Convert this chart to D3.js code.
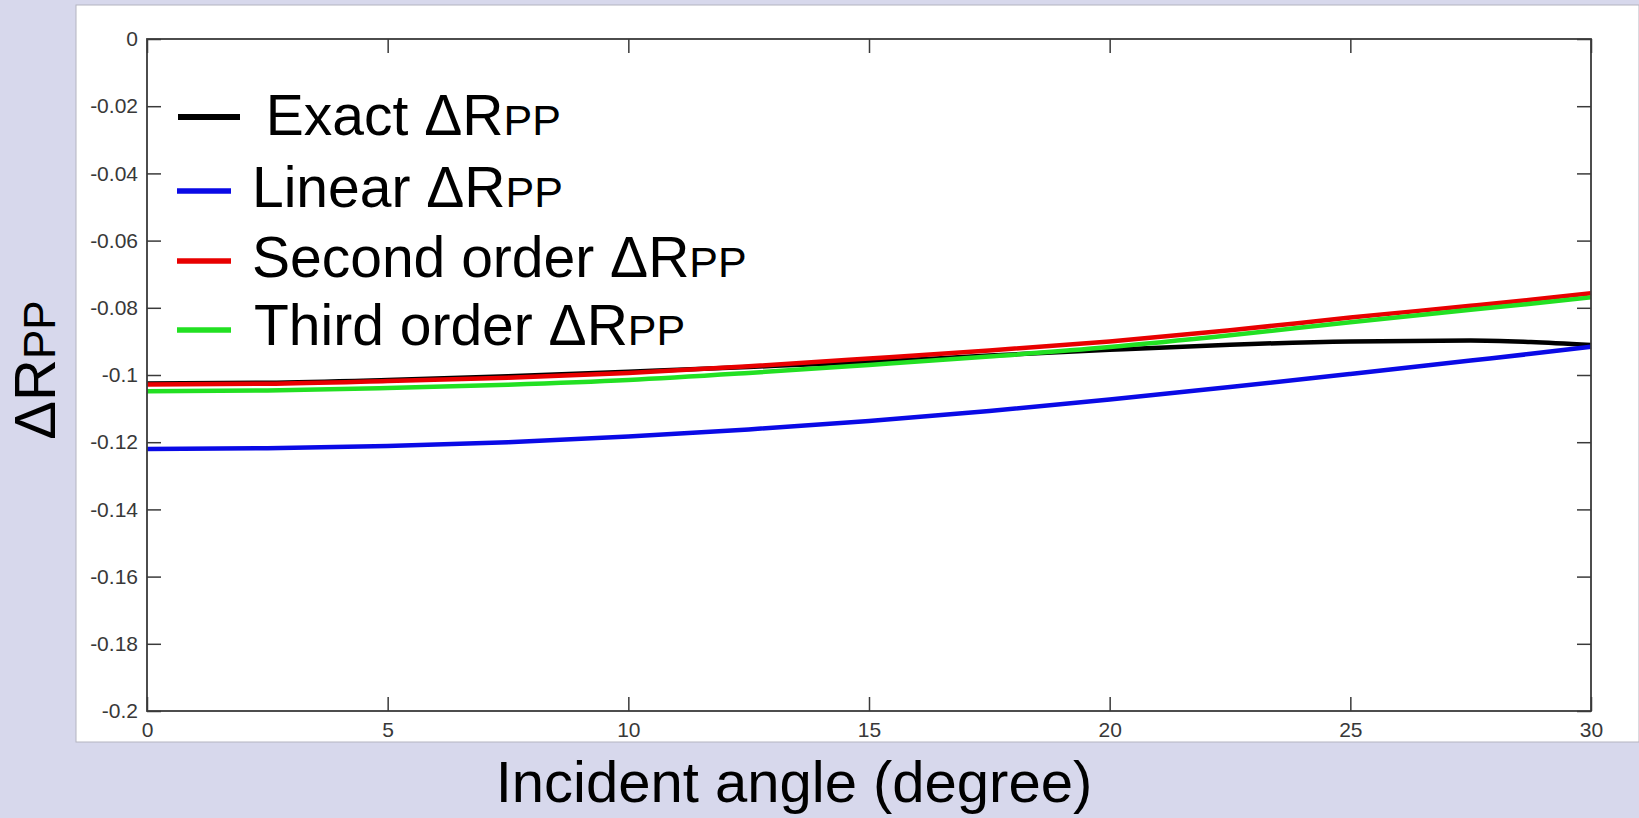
<!DOCTYPE html>
<html>
<head>
<meta charset="utf-8">
<script src="https://cdn.jsdelivr.net/npm/d3@7"></script>
<style>
  html, body { margin: 0; padding: 0; background: #d7d8ec; }
  svg { display: block; font-family: "Liberation Sans", Arial, sans-serif; }
</style>
</head>
<body>
<svg id="chart" width="1639" height="818"></svg>
<script>
// ---- data ----
const angles = [0, 2.5, 5, 7.5, 10, 12.5, 15, 17.5, 20, 22.5, 25, 27.5, 28.75, 30];
const exactR  = [-0.1025, -0.1023, -0.1015, -0.1004, -0.0990, -0.0976, -0.0961, -0.0942, -0.0925, -0.0910, -0.0900, -0.0897, -0.0902, -0.0911];
const linearR = [-0.1220, -0.1218, -0.1211, -0.1200, -0.1183, -0.1162, -0.1137, -0.1107, -0.1073, -0.1036, -0.0997, -0.0957, -0.0937, -0.0916];
const secondR = [-0.1028, -0.1026, -0.1018, -0.1008, -0.0994, -0.0974, -0.0951, -0.0927, -0.0900, -0.0867, -0.0829, -0.0794, -0.0776, -0.0757];
const thirdR  = [-0.1048, -0.1046, -0.1039, -0.1029, -0.1015, -0.0994, -0.0970, -0.0945, -0.0917, -0.0882, -0.0843, -0.0806, -0.0788, -0.0769];
const seriesNames = ["Exact", "Linear", "Second order", "Third order"];
const seriesColors = ["#000000", "#0a0ae6", "#e80000", "#22e022"];
const xTicks = [0, 5, 10, 15, 20, 25, 30];
const yTicks = [0, -0.02, -0.04, -0.06, -0.08, -0.1, -0.12, -0.14, -0.16, -0.18, -0.2];
const yTickLabels = ["0", "-0.02", "-0.04", "-0.06", "-0.08", "-0.1", "-0.12", "-0.14", "-0.16", "-0.18", "-0.2"];

(function () {
const svg = d3.select("#chart");
const W = 1639, H = 818;

// background panels
svg.append("rect").attr("x", 0).attr("y", 0).attr("width", W).attr("height", H).attr("fill", "#d7d8ec");
svg.append("rect").attr("x", 76).attr("y", 5).attr("width", W - 76).attr("height", 737)
  .attr("fill", "#ffffff").attr("stroke", "#b4b4c0").attr("stroke-width", 1);

const pLeft = 147, pRight = 1591, pTop = 39, pBottom = 711;
const x = d3.scaleLinear().domain([0, 30]).range([pLeft, pRight]);
const y = d3.scaleLinear().domain([-0.2, 0]).range([pBottom, pTop]);

// lines
const series = [exactR, linearR, secondR, thirdR];
const line = d3.line().x((d, i) => x(angles[i])).y(d => y(d)).curve(d3.curveMonotoneX);
const plot = svg.append("g");
series.forEach((s, k) => {
  plot.append("path").datum(s).attr("d", line)
    .attr("fill", "none").attr("stroke", seriesColors[k]).attr("stroke-width", 4.5)
    .attr("stroke-linejoin", "round");
});

// axes
const axColor = "#3a3a3a";
function styleAxis(g) {
  g.select(".domain").remove();
  g.selectAll(".tick line").attr("stroke", axColor).attr("stroke-width", 1.5);
  g.selectAll(".tick text").attr("fill", "#383838").style("font-size", "21px")
    .style("font-family", "'Liberation Sans', Arial, sans-serif");
}
svg.append("g").attr("transform", `translate(${pLeft},0)`)
  .call(d3.axisLeft(y).tickValues(yTicks).tickSize(-14).tickPadding(9)
    .tickFormat((d, i) => yTickLabels[i]))
  .call(styleAxis);
svg.append("g").attr("transform", `translate(${pRight},0)`)
  .call(d3.axisRight(y).tickValues(yTicks).tickSize(-14).tickFormat(""))
  .call(styleAxis);
svg.append("g").attr("transform", `translate(0,${pBottom})`)
  .call(d3.axisBottom(x).tickValues(xTicks).tickSize(-14).tickPadding(11).tickFormat(d => String(d)))
  .call(styleAxis);
svg.append("g").attr("transform", `translate(0,${pTop})`)
  .call(d3.axisTop(x).tickValues(xTicks).tickSize(-14).tickFormat(""))
  .call(styleAxis);

// frame
svg.append("rect").attr("x", pLeft).attr("y", pTop).attr("width", pRight - pLeft).attr("height", pBottom - pTop)
  .attr("fill", "none").attr("stroke", axColor).attr("stroke-width", 1.8);

// legend
const legRows = [
  { lx1: 178, lx2: 240, ly: 117, tx: 250, ty: 135, sw: 6 },
  { lx1: 177, lx2: 231, ly: 191, tx: 252, ty: 207, sw: 5.5 },
  { lx1: 177, lx2: 231, ly: 261, tx: 252, ty: 277, sw: 5.5 },
  { lx1: 177, lx2: 231, ly: 330, tx: 254, ty: 345, sw: 5.5 }
];
const leg = svg.append("g");
legRows.forEach((r, k) => {
  leg.append("line").attr("x1", r.lx1).attr("x2", r.lx2).attr("y1", r.ly).attr("y2", r.ly)
    .attr("stroke", seriesColors[k]).attr("stroke-width", r.sw);
  const t = leg.append("text").attr("x", r.tx).attr("y", r.ty)
    .attr("fill", "#000").style("font-size", "57px");
  t.append("tspan").text((k === 0 ? "\u00a0" : "") + seriesNames[k] + " \u0394R");
  t.append("tspan").style("font-size", "43px").text("PP");
});

// axis titles
svg.append("text").attr("x", 794).attr("y", 802).attr("text-anchor", "middle")
  .attr("fill", "#000").style("font-size", "58px").text("Incident angle (degree)");

const yl = svg.append("text").attr("transform", "translate(55,370) rotate(-90)")
  .attr("text-anchor", "middle").attr("fill", "#000").style("font-size", "58px");
yl.append("tspan").text("\u0394R");
yl.append("tspan").style("font-size", "44px").text("PP");
})();
</script>
</body>
</html>
